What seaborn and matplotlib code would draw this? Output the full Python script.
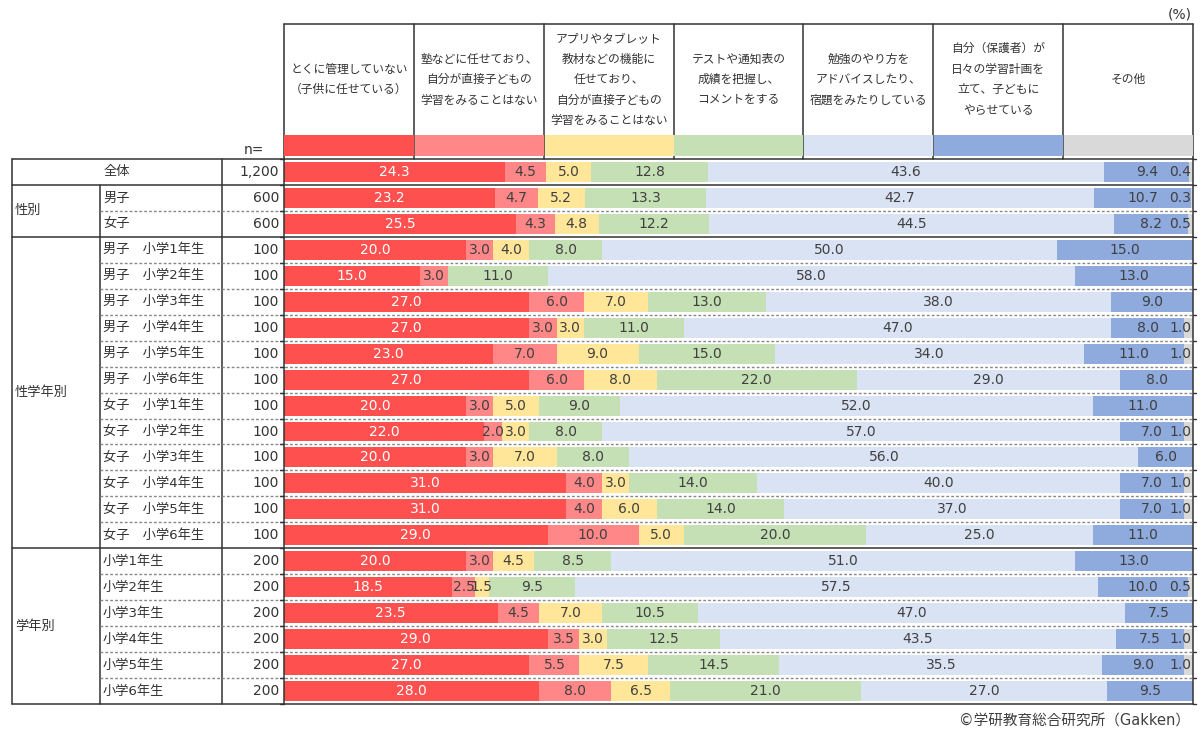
import numpy as np
import pandas as pd
import matplotlib
matplotlib.use("Agg")
import matplotlib.pyplot as plt
import seaborn as sns
from matplotlib.patches import Rectangle

# ---------------- data ----------------
categories = ["全体", "男子", "女子",
              "男子　小学1年生", "男子　小学2年生", "男子　小学3年生",
              "男子　小学4年生", "男子　小学5年生", "男子　小学6年生",
              "女子　小学1年生", "女子　小学2年生", "女子　小学3年生",
              "女子　小学4年生", "女子　小学5年生", "女子　小学6年生",
              "小学1年生", "小学2年生", "小学3年生",
              "小学4年生", "小学5年生", "小学6年生"]
n_values = ["1,200", "600", "600"] + ["100"] * 12 + ["200"] * 6
groups = [("性別", 1, 2), ("性学年別", 3, 14), ("学年別", 15, 20)]

series_names = [
    "とくに管理していない\n（子供に任せている）",
    "塾などに任せており、\n自分が直接子どもの\n学習をみることはない",
    "アプリやタブレット\n教材などの機能に\n任せており、\n自分が直接子どもの\n学習をみることはない",
    "テストや通知表の\n成績を把握し、\nコメントをする",
    "勉強のやり方を\nアドバイスしたり、\n宿題をみたりしている",
    "自分（保護者）が\n日々の学習計画を\n立て、子どもに\nやらせている",
    "その他",
]
no_management = [24.3, 23.2, 25.5, 20, 15, 27, 27, 23, 27, 20, 22, 20, 31, 31, 29, 20, 18.5, 23.5, 29, 27, 28]
cram_school   = [4.5, 4.7, 4.3, 3, 3, 6, 3, 7, 6, 3, 2, 3, 4, 4, 10, 3, 2.5, 4.5, 3.5, 5.5, 8]
apps_tablets  = [5.0, 5.2, 4.8, 4, 0, 7, 3, 9, 8, 5, 3, 7, 3, 6, 5, 4.5, 1.5, 7, 3, 7.5, 6.5]
test_grades   = [12.8, 13.3, 12.2, 8, 11, 13, 11, 15, 22, 9, 8, 8, 14, 14, 20, 8.5, 9.5, 10.5, 12.5, 14.5, 21]
advice_hw     = [43.6, 42.7, 44.5, 50, 58, 38, 47, 34, 29, 52, 57, 56, 40, 37, 25, 51, 57.5, 47, 43.5, 35.5, 27]
study_plan    = [9.4, 10.7, 8.2, 15, 13, 9, 8, 11, 8, 11, 7, 6, 7, 7, 11, 13, 10, 7.5, 7.5, 9, 9.5]
other         = [0.4, 0.3, 0.5, 0, 0, 0, 1, 1, 0, 0, 1, 0, 1, 1, 0, 0, 0.5, 0, 1, 1, 0]

series = [no_management, cram_school, apps_tablets, test_grades, advice_hw, study_plan, other]
colors = ["#FF5050", "#FF8787", "#FFE699", "#C5E0B4", "#DAE3F3", "#8FAADC", "#D9D9D9"]

# ---------------- style ----------------
sns.set_theme(style="white")
plt.rcParams["font.family"] = ["DejaVu Sans", "Noto Sans CJK JP"]
TXT = "#333333"

W, H = 1203, 734
fig = plt.figure(figsize=(W / 100, H / 100), dpi=100)
fig.patch.set_facecolor("white")

# pixel layout
X0, X1 = 284, 1193          # bar area
Y0, Y1 = 159, 704           # rows area
NR = len(categories)
RH = (Y1 - Y0) / NR

ax = fig.add_axes([X0 / W, 1 - Y1 / H, (X1 - X0) / W, (Y1 - Y0) / H])

# stacked bars: draw cumulative sums from the last series to the first
vals = np.array(series, dtype=float)
cum = np.cumsum(vals, axis=0)
for j in range(len(series) - 1, -1, -1):
    df = pd.DataFrame({"cat": categories, "val": cum[j]})
    sns.barplot(data=df, x="val", y="cat", order=categories, orient="h",
                color=colors[j], saturation=1, width=0.77, linewidth=0, ax=ax)
ax.set_xlim(0, 100)
ax.set_ylim(NR - 0.5, -0.5)
ax.set_axis_off()

# value labels
for i in range(NR):
    left = 0.0
    for j in range(len(series)):
        v = vals[j, i]
        if v > 0:
            xc = min(left + v / 2, 98.6)
            ax.text(xc, i, f"{v:.1f}", ha="center", va="center", fontsize=10,
                    color="white" if j == 0 else "#404040", zorder=5)
        left += v

# ---------------- overlay for table / header ----------------
ov = fig.add_axes([0, 0, 1, 1], zorder=3)
ov.set_xlim(0, W)
ov.set_ylim(H, 0)
ov.set_axis_off()
ov.patch.set_alpha(0)

LINE = "#333333"
DASH = "#888888"

# header columns
ncol = len(series_names)
cw = (X1 - X0) / ncol
HT = 24
for k in range(ncol + 1):
    x = X0 + k * cw
    ov.plot([x, x], [HT, Y0], color=LINE, lw=1.1, zorder=1)
ov.plot([X0, X1], [HT, HT], color=LINE, lw=1.1)
for k, name in enumerate(series_names):
    ov.add_patch(Rectangle((X0 + k * cw + (0.8 if k else 0), 135), cw - (0.8 if k else 0), 21,
                           facecolor=colors[k], edgecolor="none", zorder=2))
    ov.text(X0 + (k + 0.5) * cw, 79.5, name, ha="center", va="center",
            fontsize=8.5, color=TXT, linespacing=1.75)

ov.text(1192, 14, "(%)", ha="right", va="center", fontsize=10, color=TXT)
ov.text(264, 150, "n=", ha="right", va="center", fontsize=10, color=TXT)
ov.text(1190, 721, "©学研教育総合研究所（Gakken）", ha="right", va="center",
        fontsize=10.5, color="#404040")

# table frame
TL, TG, TN = 12, 100, 222
ov.plot([TL, X1], [Y0, Y0], color=LINE, lw=1.1)
ov.plot([TL, X1], [Y1, Y1], color=LINE, lw=1.1)
ov.plot([TL, TL], [Y0, Y1], color=LINE, lw=1.1)
ov.plot([TG, TG], [Y0 + RH, Y1], color=LINE, lw=1.1)
ov.plot([TN, TN], [Y0, Y1], color=LINE, lw=1.1)
ov.plot([X0, X0], [Y0, Y1], color=LINE, lw=1.1)
ov.plot([X1, X1], [Y0, Y1], color=LINE, lw=1.1)

group_starts = {g[1] for g in groups}
for b in range(1, NR):
    y = Y0 + b * RH
    if b in group_starts:
        ov.plot([TL, X1], [y, y], color=LINE, lw=1.1)
    else:
        ov.plot([TG, X1], [y, y], color=DASH, lw=1.0, ls=(0, (2, 1.5)))
for b in range(0, NR + 1):
    y = Y0 + b * RH
    ov.plot([X0 - 4, X0], [y, y], color=LINE, lw=1.0)
    ov.plot([X1, X1 + 3], [y, y], color=LINE, lw=1.0)

# row texts
for i, cat in enumerate(categories):
    yc = Y0 + (i + 0.5) * RH
    if i == 0:
        ov.text((TL + TN) / 2, yc, cat, ha="center", va="center", fontsize=9.5, color=TXT)
    else:
        ov.text(TG + 3, yc, cat, ha="left", va="center", fontsize=9.5, color=TXT)
    ov.text(X0 - 5, yc, n_values[i], ha="right", va="center", fontsize=10, color=TXT)

for name, a, b in groups:
    yc = Y0 + ((a + b + 1) / 2) * RH
    ov.text(TL + 3, yc, name, ha="left", va="center", fontsize=9.5, color=TXT)

fig.savefig("out.png", dpi=100, facecolor="white")
